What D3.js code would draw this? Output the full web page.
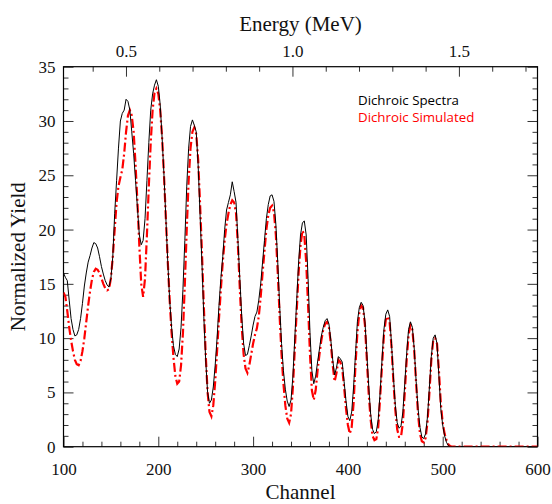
<!DOCTYPE html>
<html>
<head>
<meta charset="utf-8">
<script src="https://cdn.jsdelivr.net/npm/d3@7/dist/d3.min.js"></script>
<style>
  html, body { margin: 0; padding: 0; background: #fff; }
  svg { display: block; }
</style>
</head>
<body>
<svg id="chart" width="552" height="504"></svg>
<script>
// Channel grid shared by both spectra (every 2 channels), then a flat tail to 600
const channels = d3.range(100, 512, 2).concat([530, 560, 600]);

// Measured dichroic spectrum (normalized yield)
const spectraValues = [
  16.0, 15.6, 15.3, 13.5, 11.8, 10.8, 10.2, 10.3, 10.8, 11.8,   // 100-118
  13.2, 14.8, 16.0, 17.0, 17.6, 18.3, 18.8, 18.7, 18.3, 17.5,   // 120-138
  16.6, 15.9, 15.3, 14.9, 14.7, 15.5, 17.5, 21.5, 24.5, 27.5,   // 140-158
  30.0, 30.7, 31.0, 32.0, 31.8, 31.0, 29.0, 27.0, 24.5, 22.0,   // 160-178
  19.5, 18.6, 19.0, 21.0, 24.5, 28.0, 31.0, 32.5, 33.3, 33.8,   // 180-198
  33.2, 31.5, 28.5, 25.0, 21.0, 17.0, 13.5, 11.0, 9.3, 8.5,     // 200-218
  8.3, 9.0, 11.0, 14.5, 19.0, 24.0, 27.5, 29.5, 30.1, 29.6,     // 220-238
  29.0, 26.0, 21.5, 17.0, 12.0, 8.0, 5.0, 4.0, 4.3, 5.5,        // 240-258
  7.5, 10.0, 13.0, 15.5, 17.5, 20.0, 21.8, 22.5, 23.2, 24.4,    // 260-278
  23.5, 22.5, 19.0, 15.5, 12.0, 9.5, 8.4, 8.5, 9.3, 10.2,       // 280-298
  11.2, 12.0, 12.4, 13.5, 15.0, 17.0, 19.0, 21.0, 22.3, 23.1,   // 300-318
  23.2, 22.6, 20.5, 17.0, 13.0, 9.5, 7.0, 5.3, 4.2, 3.7,        // 320-338
  4.3, 6.5, 10.0, 13.5, 17.0, 19.5, 20.6, 20.8, 19.5, 15.5,     // 340-358
  10.5, 7.0, 5.8, 6.5, 7.8, 9.0, 10.2, 11.0, 11.6, 11.8,        // 360-378
  11.3, 9.8, 8.0, 6.6, 7.3, 8.3, 8.1, 7.8, 6.0, 4.2,            // 380-398
  2.8, 2.4, 3.2, 5.5, 8.5, 11.5, 12.8, 13.3, 13.0, 11.5,        // 400-418
  8.5, 5.5, 3.0, 1.6, 1.2, 1.4, 2.5, 5.0, 8.0, 10.8,            // 420-438
  12.2, 12.6, 12.0, 9.5, 6.5, 3.8, 2.2, 1.7, 1.9, 3.2,          // 440-458
  5.8, 8.6, 10.8, 11.5, 11.0, 9.0, 6.0, 3.5, 1.8, 0.9,          // 460-478
  0.75, 1.2, 2.8, 5.5, 8.3, 10.0, 10.3, 9.5, 6.5, 3.5,          // 480-498
  2.0, 1.0, 0.4, 0.1, 0.0, 0.0,                                 // 500-510
  0.0, 0.0, 0.0                                                 // 530, 560, 600
];

// Simulated dichroic spectrum (normalized yield)
const simulatedValues = [
  14.2, 13.8, 12.5, 11.0, 9.8, 8.8, 8.0, 7.6, 7.5, 7.9,         // 100-118
  8.8, 10.0, 11.5, 13.0, 14.3, 15.4, 16.1, 16.4, 16.3, 16.0,    // 120-138
  15.5, 15.0, 14.6, 14.4, 14.5, 15.5, 17.5, 20.0, 22.5, 24.0,   // 140-158
  24.8, 25.5, 27.0, 29.0, 30.5, 31.0, 30.5, 29.0, 26.0, 22.5,   // 160-178
  18.5, 15.0, 13.8, 15.5, 19.5, 24.0, 28.0, 31.0, 32.6, 33.0,   // 180-198
  32.5, 31.0, 28.5, 25.0, 21.0, 17.0, 13.5, 10.5, 8.2, 6.5,     // 200-218
  5.8, 6.0, 7.5, 10.5, 15.0, 20.0, 24.5, 27.5, 29.0, 29.4,      // 220-238
  28.8, 26.5, 22.5, 18.0, 13.0, 8.5, 5.0, 3.2, 2.8, 3.8,        // 240-258
  6.0, 8.8, 11.8, 14.5, 17.0, 19.0, 20.5, 21.5, 22.3, 22.7,     // 260-278
  22.5, 21.5, 18.5, 14.5, 11.0, 8.5, 7.2, 6.8, 7.5, 8.5,        // 280-298
  9.5, 10.3, 10.9, 12.0, 13.8, 16.0, 18.0, 20.0, 21.3, 22.0,    // 300-318
  22.2, 21.6, 19.5, 16.0, 12.0, 8.5, 5.8, 3.8, 2.6, 2.2,        // 320-338
  3.0, 5.5, 9.0, 12.5, 16.0, 18.5, 19.9, 19.5, 17.0, 13.0,      // 340-358
  8.5, 5.2, 4.3, 5.2, 7.0, 8.5, 9.8, 10.8, 11.3, 11.5,          // 360-378
  11.0, 9.5, 7.5, 6.0, 6.8, 8.0, 7.8, 7.2, 5.5, 3.5,            // 380-398
  2.0, 1.2, 1.8, 4.0, 7.5, 10.5, 12.3, 13.0, 12.8, 11.2,        // 400-418
  8.0, 4.8, 2.5, 1.0, 0.6, 0.7, 1.8, 4.5, 7.5, 10.3,            // 420-438
  11.7, 12.0, 11.5, 9.2, 6.0, 3.4, 1.6, 0.9, 0.9, 2.2,          // 440-458
  5.0, 8.0, 10.3, 11.2, 10.8, 8.8, 5.8, 3.0, 1.2, 0.5,          // 460-478
  0.4, 0.8, 2.3, 5.0, 8.0, 9.8, 10.0, 9.5, 7.0, 4.0,            // 480-498
  2.2, 1.2, 0.6, 0.2, 0.05, 0.0,                                // 500-510
  0.0, 0.0, 0.0                                                 // 530, 560, 600
];

// Axis ticks
const channelTicks = [100, 200, 300, 400, 500, 600];
const yieldTicks = [0, 5, 10, 15, 20, 25, 30, 35];
const energyTicks = [0.5, 1.0, 1.5];

// Energy calibration: channel = offset + gain * E(MeV)
const calOffset = -9.7;
const calGain = 351.2;

const legendLabels = ["Dichroic Spectra", "Dichroic Simulated"];
const seriesColors = ["#000000", "#ff0000"];

const svg = d3.select("#chart");
const plotLeft = 63.5, plotRight = 537.5, plotTop = 66.7, plotBottom = 446.7;

const x = d3.scaleLinear().domain([100, 600]).range([plotLeft, plotRight]);
const y = d3.scaleLinear().domain([0, 35]).range([plotBottom, plotTop]);
// top axis: energy mapped onto the same pixel span through the calibration
const e = d3.scaleLinear()
  .domain([(100 - calOffset) / calGain, (600 - calOffset) / calGain])
  .range([plotLeft, plotRight]);

const serif = "'Liberation Serif', 'Times New Roman', serif";
const tickColor = "#333";

function styleAxis(g) {
  g.select(".domain").remove();
  g.selectAll("line").attr("stroke", tickColor).attr("stroke-width", 1);
  g.selectAll("text").attr("font-family", serif).attr("font-size", 17).attr("fill", "#111");
}

// minor ticks (inward)
const minorX = d3.range(100, 601, 20).filter(v => v % 100 !== 0);
const minorY = d3.range(0, 36, 1).filter(v => v % 5 !== 0);
const minorE = d3.range(4, 18).map(v => v / 10).filter(v => Math.round(v * 10) % 5 !== 0);

// bottom axis
svg.append("g").attr("transform", `translate(0,${plotBottom})`)
  .call(d3.axisBottom(x).tickValues(channelTicks).tickSize(-10).tickPadding(16).tickFormat(d3.format("d")))
  .call(styleAxis);
svg.append("g").attr("transform", `translate(0,${plotBottom})`)
  .call(d3.axisBottom(x).tickValues(minorX).tickSize(-5).tickFormat(""))
  .call(styleAxis);

// left axis
svg.append("g").attr("transform", `translate(${plotLeft},0)`)
  .call(d3.axisLeft(y).tickValues(yieldTicks).tickSize(-10).tickPadding(8).tickFormat(d3.format("d")))
  .call(styleAxis);
svg.append("g").attr("transform", `translate(${plotLeft},0)`)
  .call(d3.axisLeft(y).tickValues(minorY).tickSize(-5).tickFormat(""))
  .call(styleAxis);

// right axis (ticks only)
svg.append("g").attr("transform", `translate(${plotRight},0)`)
  .call(d3.axisRight(y).tickValues(yieldTicks).tickSize(-10).tickFormat(""))
  .call(styleAxis);
svg.append("g").attr("transform", `translate(${plotRight},0)`)
  .call(d3.axisRight(y).tickValues(minorY).tickSize(-5).tickFormat(""))
  .call(styleAxis);

// top axis in energy
svg.append("g").attr("transform", `translate(0,${plotTop})`)
  .call(d3.axisTop(e).tickValues(energyTicks).tickSize(-10).tickPadding(10).tickFormat(d3.format(".1f")))
  .call(styleAxis);
svg.append("g").attr("transform", `translate(0,${plotTop})`)
  .call(d3.axisTop(e).tickValues(minorE).tickSize(-5).tickFormat(""))
  .call(styleAxis);

// frame
svg.append("rect")
  .attr("x", plotLeft).attr("y", plotTop)
  .attr("width", plotRight - plotLeft).attr("height", plotBottom - plotTop)
  .attr("fill", "none").attr("stroke", "#000").attr("stroke-width", 1.2);

// spectra
const line = d3.line()
  .x((d, i) => x(channels[i]))
  .y(d => y(d))
  .curve(d3.curveLinear);

svg.append("clipPath").attr("id", "plotClip")
  .append("rect").attr("x", plotLeft).attr("y", plotTop - 2)
  .attr("width", plotRight - plotLeft).attr("height", plotBottom - plotTop + 2);

svg.append("path")
  .datum(simulatedValues)
  .attr("d", line)
  .attr("fill", "none")
  .attr("stroke", seriesColors[1])
  .attr("stroke-width", 2.2)
  .attr("stroke-dasharray", "9,3,2,3")
  .attr("clip-path", "url(#plotClip)");

svg.append("path")
  .datum(spectraValues)
  .attr("d", line)
  .attr("fill", "none")
  .attr("stroke", seriesColors[0])
  .attr("stroke-width", 1)
  .attr("clip-path", "url(#plotClip)");

// legend
legendLabels.forEach((t, i) => {
  svg.append("text")
    .attr("x", 358).attr("y", 105 + i * 17)
    .attr("font-family", "'Open Sans', 'Noto Sans', sans-serif")
    .attr("font-size", 13.3)
    .attr("fill", seriesColors[i])
    .text(t);
});

// axis titles
svg.append("text")
  .attr("x", (plotLeft + plotRight) / 2).attr("y", 31)
  .attr("text-anchor", "middle")
  .attr("font-family", serif).attr("font-size", 21).attr("fill", "#111")
  .text("Energy (MeV)");

svg.append("text")
  .attr("x", (plotLeft + plotRight) / 2).attr("y", 499)
  .attr("text-anchor", "middle")
  .attr("font-family", serif).attr("font-size", 21).attr("fill", "#111")
  .text("Channel");

svg.append("text")
  .attr("transform", `translate(25,${(plotTop + plotBottom) / 2}) rotate(-90)`)
  .attr("text-anchor", "middle")
  .attr("font-family", serif).attr("font-size", 21).attr("fill", "#111")
  .text("Normalized Yield");
</script>
</body>
</html>
